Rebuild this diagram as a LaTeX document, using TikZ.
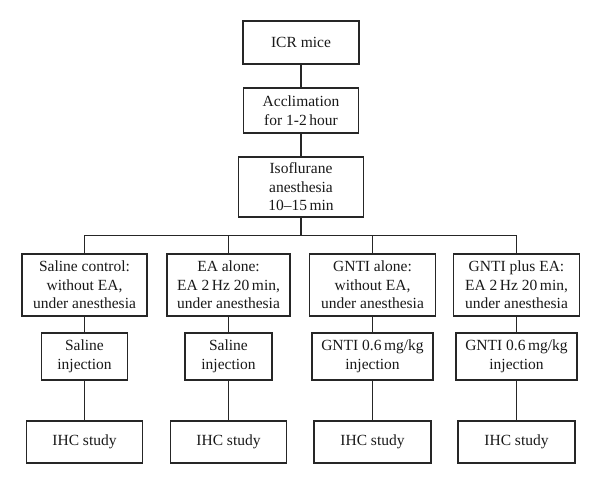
\documentclass[tikz,border=0pt]{standalone}
\usepackage{fontspec}
\setmainfont{Liberation Serif}
\begin{document}
\begin{tikzpicture}[x=1pt,y=-1pt,
  box/.style={draw=black!85, line width=1.2pt, align=center, inner sep=1pt,
    font=\fontsize{15.5}{18.5}\selectfont, text=black!90},
  link/.style={draw=black!85, line width=1.1pt}]
\useasboundingbox (0,0) rectangle (600,484);
% top chain
\node[box, minimum width=116pt, minimum height=43pt] (icr) at (301,42.5) {ICR mice};
\node[box, minimum width=115pt, minimum height=45pt] (acc) at (301,110.5) {Acclimation\\for 1-2\,hour};
\node[box, minimum width=125pt, minimum height=60pt] (iso) at (301,187) {Isoflurane\\anesthesia\\10--15\,min};
% group boxes
\node[box, minimum width=125pt, minimum height=62pt] (g1) at (84.5,285) {Saline control:\\without EA,\\under anesthesia};
\node[box, minimum width=123pt, minimum height=62pt] (g2) at (228.5,285) {EA alone:\\EA 2\,Hz 20\,min,\\under anesthesia};
\node[box, minimum width=126pt, minimum height=62pt] (g3) at (372.5,285) {GNTI alone:\\without EA,\\under anesthesia};
\node[box, minimum width=126pt, minimum height=62pt] (g4) at (516.5,285) {GNTI plus EA:\\EA 2\,Hz 20\,min,\\under anesthesia};
% injection boxes
\node[box, minimum width=86pt, minimum height=47pt] (i1) at (84.5,356.5) {Saline\\injection};
\node[box, minimum width=87pt, minimum height=47pt] (i2) at (228.5,356.5) {Saline\\injection};
\node[box, minimum width=121pt, minimum height=47pt] (i3) at (372.5,356.5) {GNTI 0.6\,mg/kg\\injection};
\node[box, minimum width=121pt, minimum height=47pt] (i4) at (516.5,356.5) {GNTI 0.6\,mg/kg\\injection};
% IHC boxes
\node[box, minimum width=116pt, minimum height=42pt] (h1) at (84.5,442) {IHC study};
\node[box, minimum width=116pt, minimum height=42pt] (h2) at (228.5,442) {IHC study};
\node[box, minimum width=117pt, minimum height=42pt] (h3) at (372.5,442) {IHC study};
\node[box, minimum width=117pt, minimum height=42pt] (h4) at (516.5,442) {IHC study};
% connectors
\coordinate (bar) at (301,235.5);
\draw[link] (icr) -- (acc);
\draw[link] (acc) -- (iso);
\draw[link] (iso.south) -- (bar);
\draw[link] (g1.north) -- (g1.north |- bar) -- (g4.north |- bar) -- (g4.north);
\draw[link] (g2.north) -- (g2.north |- bar);
\draw[link] (g3.north) -- (g3.north |- bar);
\foreach \k in {1,2,3,4}{
  \draw[link] (g\k) -- (i\k);
  \draw[link] (i\k) -- (h\k);
}
\end{tikzpicture}
\end{document}
